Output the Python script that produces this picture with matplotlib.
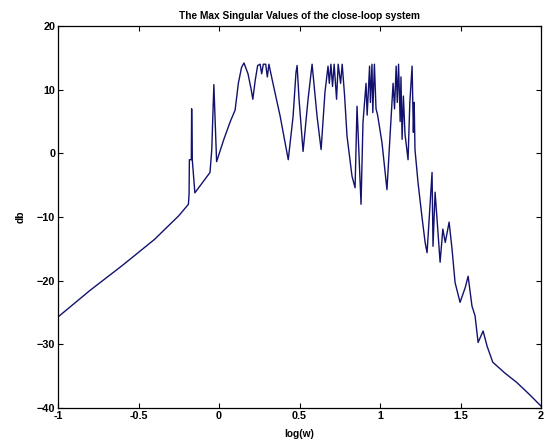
import matplotlib
matplotlib.use("Agg")
import matplotlib.pyplot as plt

# --- data (log10 of frequency, gain in dB) ---
logw = [-1.0, -0.8, -0.6, -0.4, -0.25, -0.19,
        -0.186, -0.184, -0.172, -0.170, -0.166, -0.150,
        -0.10, -0.056, -0.045, -0.032, -0.015,
        0.03, 0.07, 0.10, 0.12, 0.14, 0.155, 0.18, 0.20, 0.21,
        0.225, 0.24, 0.255, 0.265, 0.275, 0.29, 0.30, 0.31, 0.335,
        0.38, 0.43, 0.46, 0.478, 0.485, 0.497, 0.522, 0.553, 0.578,
        0.609, 0.634, 0.658, 0.677, 0.685, 0.695, 0.705, 0.715, 0.73,
        0.74, 0.755, 0.765, 0.78, 0.795, 0.826, 0.845, 0.857, 0.882,
        0.894, 0.913, 0.92, 0.935, 0.94, 0.95, 0.955, 0.965, 0.975,
        0.985, 1.012, 1.043, 1.062, 1.081, 1.09, 1.10, 1.107, 1.115,
        1.125, 1.13, 1.137, 1.145, 1.155, 1.174, 1.185, 1.199, 1.207,
        1.212, 1.217, 1.236, 1.26, 1.28, 1.292, 1.323, 1.329, 1.342,
        1.373, 1.39, 1.405, 1.429, 1.447, 1.466, 1.497, 1.53, 1.547,
        1.571, 1.59, 1.609, 1.64, 1.665, 1.70, 1.775, 1.85,
        1.925, 2.0]
gain_db = [-25.7, -21.5, -17.6, -13.5, -9.8, -8.0,
           -6.4, -1.0, -1.0, 7.0, -1.0, -6.2,
           -4.5, -3.0, 0.6, 10.8, -1.3,
           2.2, 5.0, 6.8, 11.0, 13.5, 14.2, 12.5, 10.0, 8.5,
           11.5, 13.8, 14.0, 12.5, 14.0, 14.0, 12.0, 14.0, 11.0,
           5.8, -1.0, 5.8, 12.7, 13.8, 8.5, 0.3, 8.5, 14.0,
           5.8, 0.6, 9.6, 13.7, 11.0, 14.0, 10.5, 14.0, 8.5,
           14.0, 11.0, 14.0, 9.0, 2.7, -3.6, -5.4, 7.4, -8.0,
           4.8, 11.0, 6.0, 13.7, 8.0, 14.0, 6.4, 14.0, 7.0,
           6.0, 1.7, -5.7, 2.7, 11.0, 7.0, 13.7, 8.0, 14.0,
           5.0, 12.0, 2.2, 9.0, 3.0, -1.0, 8.0, 13.7, 3.3,
           8.0, 0.6, -4.6, -9.9, -14.0, -15.6, -3.0, -14.6, -6.1,
           -17.1, -11.9, -14.0, -10.8, -15.0, -20.3, -23.4, -21.0, -19.3,
           -24.0, -25.5, -29.7, -27.9, -30.3, -32.8, -34.5, -36.0,
           -37.8, -39.7]

x_ticks = [-1, -0.5, 0, 0.5, 1, 1.5, 2]
x_tick_labels = ['-1', '-0.5', '0', '0.5', '1', '1.5', '2']
y_ticks = [-40, -30, -20, -10, 0, 10, 20]

plt.rcParams['font.family'] = ['Liberation Sans', 'DejaVu Sans']
plt.rcParams['font.weight'] = 'bold'

fig = plt.figure(figsize=(5.44, 4.44), dpi=100)
ax = fig.add_axes([0.1066, 0.081, 0.888, 0.8604])

ax.plot(logw, gain_db, color='#12126e', linewidth=1.0)

ax.set_xlim(-1, 2)
ax.set_ylim(-40, 20)
ax.set_xticks(x_ticks)
ax.set_xticklabels(x_tick_labels)
ax.set_yticks(y_ticks)
ax.tick_params(direction='in', length=3.6, width=0.8, labelsize=7.8,
               top=True, right=True, pad=2)
for lbl in ax.get_xticklabels() + ax.get_yticklabels():
    lbl.set_fontweight('bold')
for sp in ax.spines.values():
    sp.set_linewidth(0.9)

ax.set_title('The Max Singular Values of the close-loop system',
             fontsize=7.3, fontweight='bold', pad=5)
ax.set_xlabel('log(w)', fontsize=7.3, fontweight='bold', labelpad=6)
ax.set_ylabel('db', fontsize=7.3, fontweight='bold', labelpad=8)

fig.savefig('out.png', dpi=100)
